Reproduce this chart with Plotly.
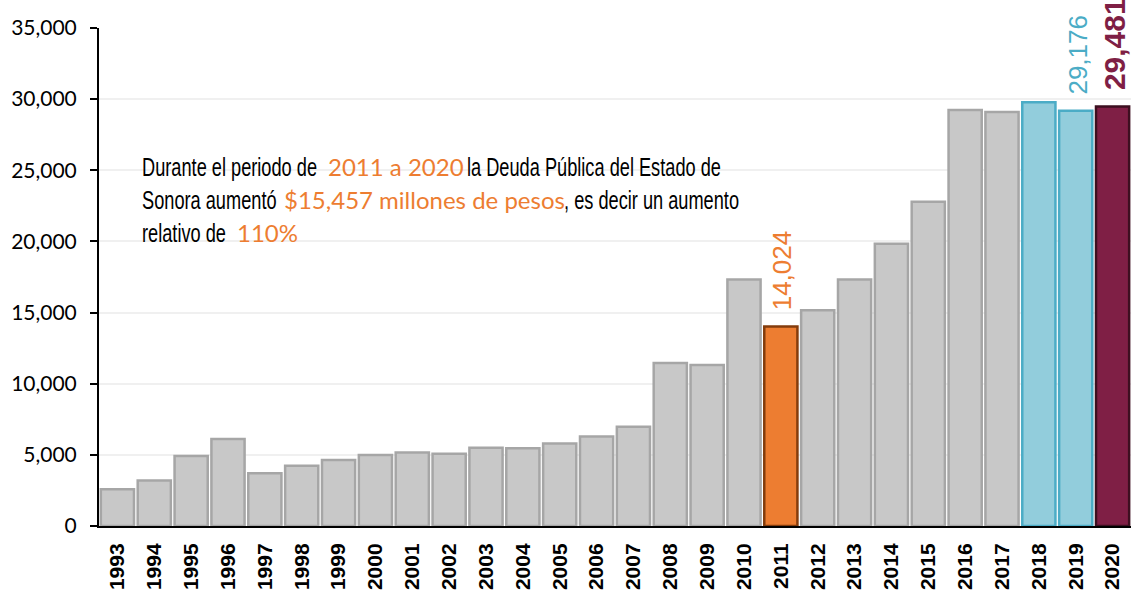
import plotly.graph_objects as go

# Deuda pública del Estado de Sonora (millones de pesos), 1993-2020
years = ["1993", "1994", "1995", "1996", "1997", "1998", "1999", "2000",
         "2001", "2002", "2003", "2004", "2005", "2006", "2007", "2008",
         "2009", "2010", "2011", "2012", "2013", "2014", "2015", "2016",
         "2017", "2018", "2019", "2020"]
deuda = [2580, 3190, 4920, 6110, 3700, 4240, 4640, 4990,
         5170, 5070, 5500, 5460, 5800, 6290, 6970, 11450,
         11310, 17330, 14024, 15170, 17330, 19840, 22780, 29240,
         29100, 29790, 29176, 29481]

# years whose value is written above the bar: colour, bold, font size
labelled = {"2011": ("#ED7D31", False, 26),
            "2019": ("#4BACC6", False, 26),
            "2020": ("#7F1F45", True, 30)}

# note text: (segment, highlighted?) per line
note = [
    [("Durante el periodo de", False), ("2011 a 2020", True),
     ("la Deuda Pública del Estado de", False)],
    [("Sonora aumentó", False), ("$15,457 millones de pesos", True),
     (", es decir un aumento", False)],
    [("relativo de", False), ("110%", True)],
]

GRAY_FILL, GRAY_LINE = "#C8C8C8", "#A6A6A6"
ORANGE = "#ED7D31"

fills, lines = [], []
for y in years:
    if y == "2011":
        fills.append(ORANGE); lines.append("#843C0C")
    elif y in ("2018", "2019"):
        fills.append("#92CDDC"); lines.append("#4BACC6")
    elif y == "2020":
        fills.append("#7F1F45"); lines.append("#3D0F20")
    else:
        fills.append(GRAY_FILL); lines.append(GRAY_LINE)

fig = go.Figure(go.Bar(
    x=list(range(len(years))), y=deuda,
    marker=dict(color=fills, line=dict(color=lines, width=2.5)),
    hovertext=years, hoverinfo="text+y",
))

annotations = []
for i, (y, v) in enumerate(zip(years, deuda)):
    if y in labelled:
        color, bold, size = labelled[y]
        txt = f"{v:,}"
        if bold:
            txt = f"<b>{txt}</b>"
        annotations.append(dict(
            x=i, y=v, xref="x", yref="y", text=txt, textangle=-90,
            showarrow=False, xanchor="center", yanchor="bottom",
            xshift=2, yshift=14,
            font=dict(family="Liberation Sans, Arial, sans-serif", size=size, color=color),
        ))

# layout geometry in pixels
W, H = 1131, 590
L, R, T, B = 99, 0, 28, 64
pw, ph = W - L - R, H - T - B

# left edge of each segment and the baseline of each line
seg_x = [[142, 328, 467], [142, 284, 564], [142, 237]]
baselines = [177, 210, 243]

squeeze_idx = []
for segs, xs, base in zip(note, seg_x, baselines):
    for (txt, hot), xpx in zip(segs, xs):
        if hot:
            font = dict(family="Lato, sans-serif", size=24, color=ORANGE)
            shift = 6
        else:
            font = dict(family="Liberation Sans, Arial, sans-serif", size=26, color="#000000")
            shift = 6.5
            squeeze_idx.append(len(annotations))
        annotations.append(dict(
            x=(xpx - L - 2) / pw, y=(H - B - (base + shift)) / ph,
            xref="paper", yref="paper", xanchor="left", yanchor="bottom",
            text=txt, showarrow=False, font=font,
        ))

fig.update_layout(
    width=W, height=H,
    margin=dict(l=L, r=R, t=T, b=B),
    paper_bgcolor="white", plot_bgcolor="white",
    bargap=0.1,
    showlegend=False,
    annotations=annotations,
)
fig.update_xaxes(
    range=[-0.5, len(years) - 0.5],
    tickmode="array", tickvals=list(range(len(years))),
    ticktext=[f"<b>{y}</b>" for y in years],
    showline=True, linecolor="black", linewidth=2,
    ticks="", tickangle=-90, ticklabelstandoff=7,
    tickfont=dict(family="Liberation Sans, Arial, sans-serif", size=21, color="black"),
    showgrid=False, zeroline=False,
)
fig.update_yaxes(
    range=[0, 35000], dtick=5000, tickformat=",d",
    showline=True, linecolor="black", linewidth=2,
    ticks="outside", ticklen=7, tickwidth=2, tickcolor="black",
    ticklabelstandoff=9,
    showgrid=True, gridcolor="#F0F0F0", gridwidth=1.5,
    tickfont=dict(family="Lato, sans-serif", size=21, color="black"),
    zeroline=False,
)

# narrow the plain note segments horizontally (condensed lettering),
# keeping each segment's left edge in place
post = """
var gd = document.getElementById('{plot_id}');
var IDX = %s, SX = 0.70;
function squeeze() {
  gd.querySelectorAll('g.annotation').forEach(function (g) {
    var i = +g.getAttribute('data-index');
    if (IDX.indexOf(i) < 0) return;
    var t = g.querySelector('text.annotation-text');
    if (!t) return;
    var bb = t.getBBox();
    t.setAttribute('transform',
      'translate(' + (bb.x * (1 - SX)) + ',0) scale(' + SX + ',1)');
  });
}
squeeze();
if (gd.on) gd.on('plotly_afterplot', squeeze);
setTimeout(squeeze, 50);
""" % (squeeze_idx,)

fig.write_html("out.html", post_script=post)
